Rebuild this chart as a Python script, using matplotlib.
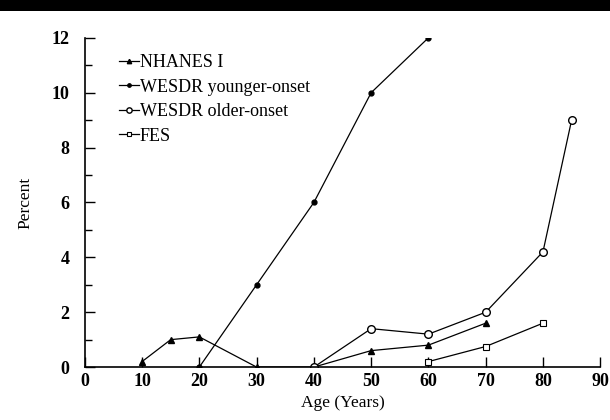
import matplotlib.pyplot as plt
from matplotlib.patches import Rectangle
from matplotlib.ticker import MultipleLocator

# Data
nhanes_age = [10, 15, 20, 30, 40, 50, 60, 70]
nhanes_pct = [0.2, 1.0, 1.1, 0.0, 0.0, 0.6, 0.8, 1.6]

wesdr_young_age = [20, 30, 40, 50, 60]
wesdr_young_pct = [0.0, 3.0, 6.0, 10.0, 12.0]

wesdr_old_age = [40, 50, 60, 70, 80, 85]
wesdr_old_pct = [0.0, 1.4, 1.2, 2.0, 4.2, 9.0]

fes_age = [60, 70, 80]
fes_pct = [0.2, 0.75, 1.6]

plt.rcParams["font.family"] = ["Liberation Serif", "DejaVu Serif"]

fig = plt.figure(figsize=(6.1, 4.2), dpi=100)
ax = fig.add_axes([0.139, 0.126, 0.845, 0.784])

# black band across the top
fig.patches.append(Rectangle((0, 0.975), 1, 0.025, transform=fig.transFigure,
                             facecolor="black", edgecolor="none"))

ax.plot(nhanes_age, nhanes_pct, "-^", color="black", lw=0.9, ms=4.5,
        label="NHANES I")
ax.plot(wesdr_young_age, wesdr_young_pct, "-o", color="black", lw=0.9, ms=3.5,
        label="WESDR younger-onset")
ax.plot(wesdr_old_age, wesdr_old_pct, "-o", color="black", lw=0.9, ms=5.5,
        mfc="white", mew=1.0, label="WESDR older-onset")
ax.plot(fes_age, fes_pct, "-s", color="black", lw=0.9, ms=5,
        mfc="white", mew=0.8, label="FES")

ax.set_xlim(0, 90)
ax.set_ylim(0, 12)
ax.set_xticks(range(0, 91, 10))
ax.set_yticks(range(0, 13, 2))
ax.yaxis.set_minor_locator(MultipleLocator(1))
ax.spines["top"].set_visible(False)
ax.spines["right"].set_visible(False)
ax.spines["left"].set_linewidth(1.2)
ax.spines["bottom"].set_linewidth(1.2)
ax.tick_params(direction="in", length=7, width=1, labelsize=13, pad=4)
ax.tick_params(axis="y", which="major", pad=11)
ax.tick_params(axis="y", which="minor", direction="in", length=5, width=1)
for lbl in ax.get_xticklabels() + ax.get_yticklabels():
    lbl.set_fontweight("bold")

ax.set_xlabel("Age (Years)", fontsize=12.5, labelpad=4)
ax.set_ylabel("Percent", fontsize=12.5, labelpad=13)

ax.legend(loc="upper left", bbox_to_anchor=(0.035, 1.0), frameon=False,
          fontsize=13, handlelength=1.1, handletextpad=0.05, labelspacing=0.42,
          markerscale=0.7)

fig.savefig("out.png", dpi=100)
